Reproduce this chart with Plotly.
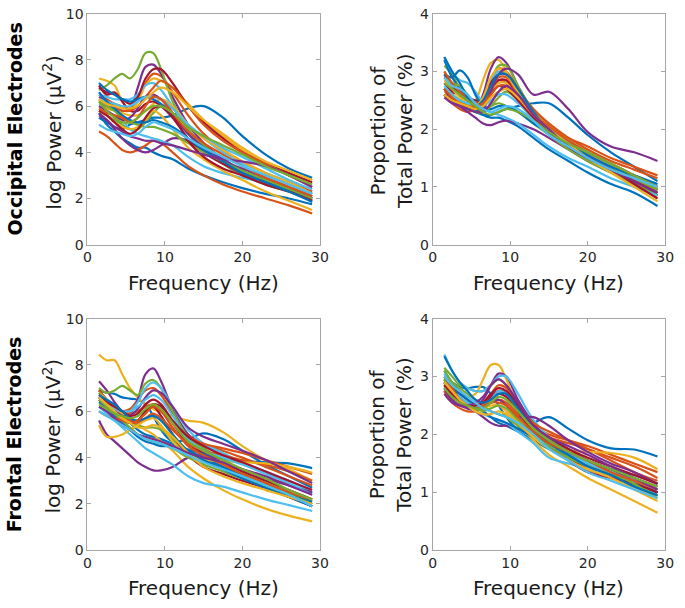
import plotly.graph_objects as go

freq = [1.5, 2.5, 3.5, 4.5, 5.5, 6.5, 7.5, 8.5, 9.5, 11, 13, 15, 17.5, 20, 23, 26, 29]

occ_power = [
    [5.5, 5.3, 5.1, 5.0, 5.2, 5.3, 5.4, 5.5, 5.5, 5.6, 5.9, 6.0, 5.5, 4.7, 3.9, 3.3, 2.9],
    [6.5, 6.3, 6.1, 6.0, 5.9, 6.3, 7.0, 7.4, 7.3, 6.6, 5.6, 4.8, 4.1, 3.6, 3.1, 2.7, 2.3],
    [7.2, 7.1, 6.9, 6.2, 5.8, 6.2, 6.9, 7.2, 7.1, 6.8, 6.1, 5.4, 4.7, 4.1, 3.5, 3.1, 2.6],
    [6.4, 6.2, 6.0, 5.8, 5.9, 6.8, 7.7, 7.8, 7.4, 6.4, 5.2, 4.4, 3.7, 3.2, 2.7, 2.3, 1.9],
    [6.7, 6.9, 7.2, 7.4, 7.2, 7.6, 8.3, 8.3, 7.6, 6.2, 5.0, 4.2, 3.5, 3.0, 2.6, 2.3, 2.0],
    [6.5, 6.4, 6.3, 6.3, 6.3, 6.5, 6.9, 7.0, 6.7, 6.0, 5.2, 4.6, 4.0, 3.5, 3.1, 2.7, 2.2],
    [6.8, 6.6, 6.5, 6.3, 6.1, 6.4, 7.2, 7.6, 7.6, 7.0, 6.0, 5.3, 4.6, 4.0, 3.5, 3.1, 2.7],
    [5.7, 5.2, 4.9, 4.6, 4.4, 4.2, 4.2, 4.0, 3.85, 3.7, 3.3, 3.0, 2.7, 2.45, 2.2, 2.0, 1.75],
    [4.9, 4.7, 4.4, 4.1, 4.0, 4.1, 4.3, 4.5, 4.4, 4.0, 3.4, 3.0, 2.6, 2.3, 2.0, 1.7, 1.35],
    [6.0, 5.9, 5.8, 5.7, 5.6, 5.6, 5.8, 6.1, 6.3, 6.0, 5.2, 4.6, 4.1, 3.6, 3.1, 2.7, 2.2],
    [5.7, 5.4, 5.0, 4.6, 4.3, 4.1, 4.0, 4.1, 4.3, 4.6, 4.5, 4.0, 3.6, 3.3, 2.9, 2.5, 2.1],
    [5.8, 5.6, 5.4, 5.2, 5.0, 5.0, 5.3, 5.7, 6.0, 5.9, 5.0, 4.3, 3.7, 3.2, 2.7, 2.3, 1.9],
    [6.1, 6.0, 5.8, 5.4, 5.0, 4.8, 4.7, 4.6, 4.5, 4.3, 3.8, 3.4, 3.1, 2.9, 2.7, 2.5, 2.2],
    [6.9, 6.5, 6.6, 6.2, 5.8, 5.8, 6.1, 6.2, 6.0, 5.5, 4.6, 4.0, 3.5, 3.1, 2.7, 2.4, 2.0],
    [7.0, 6.7, 6.5, 6.3, 6.2, 6.3, 6.4, 6.3, 6.1, 5.6, 4.8, 4.2, 3.7, 3.2, 2.8, 2.4, 2.0],
    [6.2, 6.0, 5.9, 5.8, 5.8, 6.0, 6.4, 6.8, 7.1, 6.8, 6.0, 5.2, 4.5, 4.0, 3.5, 3.0, 2.5],
    [5.8, 5.6, 5.3, 5.1, 5.0, 5.1, 5.4, 5.8, 5.6, 5.0, 4.2, 3.7, 3.2, 2.8, 2.3, 1.9, 1.5],
    [6.0, 5.8, 5.6, 5.4, 5.5, 5.9, 6.4, 6.5, 6.3, 5.7, 4.8, 4.2, 3.7, 3.2, 2.8, 2.4, 2.0],
    [6.3, 6.0, 5.8, 5.5, 5.3, 5.2, 5.1, 5.1, 5.0, 4.8, 4.4, 4.0, 3.6, 3.2, 2.8, 2.4, 2.0],
    [6.3, 6.2, 6.1, 6.0, 6.0, 6.2, 6.4, 6.4, 6.3, 5.9, 5.2, 4.7, 4.2, 3.8, 3.3, 2.8, 2.4],
    [5.8, 5.6, 5.3, 5.0, 4.8, 5.0, 5.5, 5.9, 6.0, 5.6, 4.5, 3.8, 3.3, 3.0, 2.6, 2.3, 1.9],
    [6.6, 6.2, 5.9, 5.6, 5.4, 5.3, 5.3, 5.4, 5.3, 5.1, 4.6, 4.1, 3.6, 3.1, 2.7, 2.3, 1.85],
    [5.9, 5.7, 5.6, 5.5, 5.3, 5.5, 6.0, 6.4, 6.3, 5.7, 4.9, 4.4, 3.9, 3.4, 2.9, 2.5, 2.1],
    [6.3, 6.1, 6.0, 5.9, 5.9, 6.0, 6.3, 6.6, 6.8, 6.6, 6.0, 5.4, 4.8, 4.2, 3.6, 3.2, 2.8],
    [5.6, 5.4, 5.1, 4.9, 4.7, 4.6, 4.5, 4.5, 4.4, 4.3, 4.1, 3.9, 3.7, 3.6, 3.4, 3.0, 2.5],
    [6.2, 5.8, 5.5, 5.3, 5.3, 5.5, 5.8, 6.0, 6.0, 5.7, 5.1, 4.7, 4.3, 3.9, 3.4, 3.0, 2.6],
    [5.2, 5.0, 4.9, 4.8, 4.7, 4.8, 5.1, 5.3, 5.2, 5.0, 4.6, 4.2, 3.8, 3.4, 3.0, 2.6, 2.2],
]

occ_prop = [
    [2.6, 2.5, 2.45, 2.35, 2.3, 2.25, 2.25, 2.3, 2.35, 2.4, 2.45, 2.45, 2.2, 1.9, 1.6, 1.35, 1.1],
    [2.9, 2.75, 2.6, 2.5, 2.45, 2.55, 2.85, 3.05, 3.0, 2.7, 2.35, 2.1, 1.85, 1.65, 1.45, 1.3, 1.15],
    [2.7, 2.6, 2.5, 2.45, 2.5, 2.85, 3.15, 3.2, 3.0, 2.65, 2.3, 2.05, 1.8, 1.55, 1.3, 1.1, 0.9],
    [2.7, 2.55, 2.45, 2.4, 2.35, 2.6, 3.05, 3.25, 3.15, 2.75, 2.3, 1.95, 1.7, 1.5, 1.3, 1.1, 0.85],
    [3.1, 2.95, 2.7, 2.55, 2.35, 2.4, 2.8, 3.1, 3.1, 2.75, 2.3, 2.0, 1.75, 1.55, 1.35, 1.15, 0.95],
    [3.0, 2.8, 2.65, 2.5, 2.4, 2.55, 2.85, 3.0, 2.95, 2.65, 2.25, 1.95, 1.7, 1.5, 1.3, 1.1, 0.9],
    [2.95, 2.75, 2.6, 2.5, 2.4, 2.5, 2.8, 2.95, 2.95, 2.7, 2.3, 2.05, 1.8, 1.6, 1.4, 1.2, 1.0],
    [3.2, 2.9, 2.7, 2.5, 2.35, 2.25, 2.2, 2.2, 2.15, 2.05, 1.85, 1.65, 1.45, 1.25, 1.05, 0.9, 0.67],
    [2.6, 2.45, 2.35, 2.3, 2.35, 2.5, 2.75, 2.85, 2.8, 2.55, 2.25, 2.05, 1.85, 1.7, 1.5, 1.35, 1.2],
    [2.65, 2.55, 2.45, 2.4, 2.35, 2.45, 2.65, 2.8, 2.8, 2.6, 2.25, 2.0, 1.75, 1.55, 1.3, 1.1, 0.8],
    [2.7, 2.5, 2.4, 2.3, 2.2, 2.1, 2.07, 2.12, 2.15, 2.1, 2.0, 1.85, 1.65, 1.45, 1.25, 1.05, 0.85],
    [2.9, 2.8, 2.75, 2.6, 2.4, 2.3, 2.4, 2.45, 2.4, 2.3, 2.1, 1.9, 1.65, 1.45, 1.25, 1.05, 0.85],
    [3.25, 3.0, 2.85, 2.8, 2.65, 2.45, 2.3, 2.25, 2.2, 2.1, 1.9, 1.7, 1.5, 1.35, 1.15, 1.0, 0.85],
    [2.8, 2.65, 2.6, 2.55, 2.5, 2.5, 2.7, 2.85, 2.85, 2.6, 2.3, 2.05, 1.75, 1.5, 1.3, 1.05, 0.8],
    [2.95, 2.9, 3.02, 2.9, 2.6, 2.4, 2.35, 2.4, 2.4, 2.3, 2.1, 1.95, 1.7, 1.5, 1.3, 1.15, 0.95],
    [3.0, 2.8, 2.65, 2.55, 2.45, 2.5, 2.7, 2.9, 2.9, 2.6, 2.2, 1.95, 1.7, 1.5, 1.3, 1.1, 0.95],
    [2.85, 2.7, 2.55, 2.45, 2.4, 2.55, 2.9, 3.05, 2.95, 2.65, 2.3, 2.05, 1.8, 1.6, 1.4, 1.2, 1.0],
    [2.6, 2.5, 2.45, 2.4, 2.3, 2.35, 2.65, 2.95, 3.05, 2.95, 2.6, 2.65, 2.35, 1.95, 1.7, 1.6, 1.45],
    [2.7, 2.6, 2.5, 2.4, 2.3, 2.3, 2.4, 2.55, 2.65, 2.5, 2.15, 1.95, 1.75, 1.55, 1.35, 1.15, 0.95],
    [2.75, 2.6, 2.5, 2.45, 2.4, 2.4, 2.5, 2.6, 2.6, 2.45, 2.2, 2.0, 1.8, 1.6, 1.4, 1.2, 1.05],
    [2.6, 2.5, 2.45, 2.4, 2.35, 2.4, 2.6, 2.75, 2.7, 2.5, 2.2, 1.95, 1.7, 1.5, 1.3, 1.1, 0.9],
    [3.25, 3.0, 2.8, 2.55, 2.4, 2.5, 2.75, 2.95, 2.95, 2.7, 2.3, 2.0, 1.75, 1.55, 1.35, 1.2, 1.05],
    [2.7, 2.55, 2.45, 2.4, 2.4, 2.45, 2.6, 2.75, 2.75, 2.55, 2.25, 2.05, 1.8, 1.6, 1.4, 1.2, 1.0],
    [2.6, 2.5, 2.45, 2.4, 2.35, 2.4, 2.55, 2.65, 2.7, 2.55, 2.25, 2.0, 1.75, 1.5, 1.25, 1.0, 0.75],
    [2.55, 2.45, 2.4, 2.35, 2.3, 2.3, 2.45, 2.65, 2.75, 2.6, 2.25, 2.0, 1.7, 1.5, 1.3, 1.1, 0.9],
    [2.8, 2.7, 2.6, 2.5, 2.4, 2.3, 2.25, 2.3, 2.35, 2.3, 2.15, 1.95, 1.75, 1.6, 1.4, 1.2, 1.0],
    [2.9, 2.75, 2.7, 2.6, 2.45, 2.35, 2.3, 2.35, 2.4, 2.35, 2.15, 1.9, 1.7, 1.5, 1.3, 1.15, 1.0],
]

fro_power = [
    [6.9, 6.8, 6.75, 6.6, 6.55, 6.5, 6.3, 5.8, 5.2, 4.7, 4.8, 5.05, 4.8, 4.3, 3.7, 3.2, 2.7],
    [6.6, 6.3, 6.1, 6.0, 6.1, 6.5, 6.9, 7.0, 6.7, 5.9, 5.0, 4.6, 4.3, 4.0, 3.6, 3.2, 2.8],
    [8.45, 8.2, 8.2, 7.6, 7.0, 6.6, 6.3, 6.1, 5.95, 5.8, 5.6, 5.5, 5.1, 4.5, 3.9, 3.5, 3.0],
    [7.3, 6.9, 6.4, 6.0, 5.9, 6.5, 7.6, 7.85, 7.3, 6.1, 5.0, 4.4, 3.9, 3.4, 2.9, 2.4, 1.9],
    [7.0, 6.8, 6.9, 7.1, 6.9, 6.7, 7.2, 7.35, 7.0, 6.0, 4.9, 4.4, 3.9, 3.4, 2.9, 2.5, 2.0],
    [6.8, 6.5, 6.2, 6.0, 6.0, 6.4, 7.0, 7.25, 7.0, 6.2, 5.2, 4.6, 4.2, 3.8, 3.4, 3.0, 2.5],
    [6.9, 6.5, 6.2, 5.9, 5.6, 5.6, 6.0, 6.3, 6.2, 5.5, 4.6, 4.2, 3.8, 3.4, 3.0, 2.6, 2.2],
    [6.6, 6.3, 6.0, 5.8, 5.5, 5.2, 5.0, 4.9, 4.8, 4.6, 4.35, 4.15, 3.95, 3.85, 3.8, 3.75, 3.55],
    [6.9, 6.5, 6.2, 6.0, 5.9, 6.0, 6.2, 6.3, 6.1, 5.5, 4.9, 4.6, 4.4, 4.2, 3.9, 3.6, 3.3],
    [6.8, 6.5, 6.2, 5.9, 5.6, 5.4, 5.2, 5.0, 4.7, 4.3, 3.6, 3.1, 2.6, 2.2, 1.8, 1.5, 1.25],
    [5.6, 5.0, 4.7, 4.4, 4.1, 3.8, 3.6, 3.45, 3.45, 3.6, 4.0, 4.1, 3.8, 3.5, 3.1, 2.8, 2.5],
    [6.8, 6.3, 5.8, 5.6, 5.5, 5.4, 5.3, 5.3, 5.2, 4.8, 4.2, 3.9, 3.6, 3.3, 2.9, 2.5, 2.1],
    [6.2, 5.9, 5.6, 5.3, 5.0, 4.7, 4.4, 4.2, 4.0, 3.7, 3.2, 2.9, 2.75, 2.5, 2.2, 1.95, 1.7],
    [6.6, 6.3, 6.0, 5.7, 5.5, 5.6, 6.0, 6.2, 5.8, 5.0, 4.1, 3.6, 3.3, 3.0, 2.7, 2.3, 1.9],
    [6.4, 6.1, 5.8, 5.5, 5.2, 4.9, 4.7, 4.6, 4.5, 4.5, 4.3, 4.0, 3.6, 3.2, 2.8, 2.4, 2.1],
    [6.5, 6.2, 6.0, 5.8, 5.6, 5.5, 5.7, 5.9, 5.7, 5.2, 4.6, 4.3, 4.1, 3.9, 3.7, 3.4, 3.0],
    [5.4, 4.9, 4.9, 5.0, 5.2, 5.4, 5.6, 5.7, 5.4, 4.7, 4.1, 3.9, 3.85, 3.8, 3.75, 3.6, 3.35],
    [6.5, 6.2, 6.0, 5.8, 5.8, 6.1, 6.6, 6.9, 6.8, 6.2, 5.3, 4.9, 4.6, 4.3, 3.9, 3.4, 2.9],
    [6.5, 6.2, 5.9, 5.6, 5.3, 5.0, 4.8, 4.7, 4.6, 4.4, 4.0, 3.7, 3.4, 3.1, 2.8, 2.4, 2.0],
    [6.6, 6.3, 6.1, 6.0, 6.0, 6.2, 6.5, 6.7, 6.5, 5.8, 4.8, 4.3, 4.0, 3.7, 3.3, 2.9, 2.4],
    [6.7, 6.4, 6.2, 6.0, 5.8, 5.9, 6.3, 6.5, 6.3, 5.6, 4.9, 4.5, 4.1, 3.8, 3.4, 3.0, 2.6],
    [6.7, 6.5, 6.3, 6.0, 5.7, 5.6, 5.7, 5.8, 5.6, 5.0, 4.3, 3.9, 3.5, 3.1, 2.7, 2.3, 1.9],
    [6.0, 5.8, 5.7, 5.6, 5.5, 5.6, 5.9, 6.2, 6.0, 5.3, 4.5, 4.1, 3.7, 3.3, 2.9, 2.5, 2.2],
    [6.6, 6.3, 6.0, 5.7, 5.5, 5.3, 5.3, 5.4, 5.3, 4.9, 4.2, 3.6, 3.2, 2.9, 2.6, 2.3, 2.0],
    [6.2, 6.0, 5.7, 5.4, 5.2, 5.0, 4.9, 4.8, 4.7, 4.5, 4.2, 4.0, 3.8, 3.5, 3.2, 2.8, 2.4],
    [6.3, 6.1, 5.9, 5.8, 5.7, 5.8, 6.1, 6.3, 6.1, 5.5, 4.7, 4.3, 3.9, 3.5, 3.1, 2.6, 2.2],
    [6.0, 5.8, 5.6, 5.4, 5.2, 5.0, 4.8, 4.7, 4.6, 4.4, 4.1, 3.8, 3.5, 3.2, 2.8, 2.4, 1.9],
]

fro_prop = [
    [3.0, 2.9, 2.82, 2.8, 2.82, 2.82, 2.7, 2.5, 2.3, 2.1, 2.2, 2.3, 2.1, 1.9, 1.76, 1.74, 1.62],
    [2.9, 2.7, 2.55, 2.45, 2.45, 2.5, 2.65, 2.75, 2.7, 2.45, 2.15, 2.0, 1.9, 1.8, 1.65, 1.5, 1.35],
    [2.85, 2.8, 2.75, 2.65, 2.7, 2.95, 3.2, 3.2, 2.95, 2.5, 2.1, 1.85, 1.65, 1.5, 1.3, 1.1, 0.9],
    [2.75, 2.6, 2.6, 2.55, 2.5, 2.6, 2.85, 3.05, 3.0, 2.6, 2.2, 1.95, 1.75, 1.55, 1.4, 1.25, 1.1],
    [3.15, 3.0, 2.85, 2.8, 2.75, 2.75, 2.85, 2.95, 2.85, 2.5, 2.1, 1.85, 1.65, 1.5, 1.35, 1.2, 1.0],
    [3.38, 3.1, 2.9, 2.8, 2.75, 2.75, 2.85, 3.0, 3.0, 2.7, 2.25, 1.95, 1.7, 1.55, 1.35, 1.2, 1.05],
    [2.9, 2.75, 2.6, 2.5, 2.45, 2.5, 2.65, 2.75, 2.7, 2.4, 2.0, 1.8, 1.6, 1.4, 1.25, 1.1, 0.95],
    [3.1, 2.9, 2.75, 2.6, 2.5, 2.4, 2.3, 2.2, 2.15, 2.05, 1.9, 1.75, 1.6, 1.45, 1.3, 1.15, 1.0],
    [2.75, 2.55, 2.45, 2.4, 2.4, 2.45, 2.55, 2.6, 2.55, 2.35, 2.1, 1.95, 1.85, 1.75, 1.6, 1.45, 1.25],
    [3.0, 2.85, 2.7, 2.6, 2.5, 2.45, 2.4, 2.35, 2.3, 2.15, 1.9, 1.65, 1.45, 1.25, 1.05, 0.85, 0.65],
    [2.8, 2.6, 2.5, 2.45, 2.4, 2.3, 2.2, 2.15, 2.15, 2.1, 2.05, 1.9, 1.7, 1.55, 1.4, 1.2, 1.0],
    [3.1, 2.9, 2.8, 2.7, 2.6, 2.5, 2.4, 2.35, 2.3, 2.15, 1.95, 1.75, 1.6, 1.45, 1.3, 1.15, 0.95],
    [3.05, 2.8, 2.65, 2.5, 2.4, 2.35, 2.3, 2.25, 2.2, 2.05, 1.85, 1.6, 1.5, 1.4, 1.25, 1.1, 0.95],
    [2.95, 2.8, 2.7, 2.6, 2.5, 2.5, 2.6, 2.7, 2.65, 2.4, 2.05, 1.8, 1.55, 1.35, 1.25, 1.15, 1.0],
    [2.95, 2.8, 2.7, 2.6, 2.5, 2.4, 2.3, 2.25, 2.2, 2.1, 1.95, 1.8, 1.65, 1.5, 1.4, 1.3, 1.15],
    [2.85, 2.65, 2.55, 2.5, 2.5, 2.55, 2.7, 2.85, 2.8, 2.5, 2.2, 2.05, 1.9, 1.75, 1.55, 1.35, 1.2],
    [2.85, 2.75, 2.6, 2.5, 2.45, 2.45, 2.5, 2.5, 2.4, 2.2, 1.95, 1.8, 1.72, 1.7, 1.68, 1.6, 1.4],
    [2.9, 2.7, 2.55, 2.5, 2.5, 2.5, 2.55, 2.6, 2.5, 2.3, 2.3, 2.15, 1.9, 1.7, 1.5, 1.35, 1.15],
    [2.95, 2.75, 2.6, 2.5, 2.45, 2.4, 2.45, 2.5, 2.45, 2.25, 2.0, 1.8, 1.6, 1.5, 1.35, 1.15, 0.9],
    [2.9, 2.75, 2.65, 2.55, 2.5, 2.5, 2.6, 2.75, 2.7, 2.45, 2.1, 1.85, 1.65, 1.5, 1.35, 1.2, 1.05],
    [2.85, 2.7, 2.6, 2.5, 2.5, 2.55, 2.7, 2.8, 2.75, 2.5, 2.15, 1.95, 1.75, 1.6, 1.45, 1.3, 1.15],
    [3.35, 3.1, 2.9, 2.75, 2.6, 2.55, 2.6, 2.7, 2.7, 2.45, 2.1, 1.85, 1.65, 1.45, 1.3, 1.1, 0.95],
    [3.0, 2.8, 2.6, 2.5, 2.45, 2.5, 2.55, 2.55, 2.5, 2.3, 2.05, 1.85, 1.7, 1.55, 1.35, 1.2, 1.05],
    [2.9, 2.75, 2.6, 2.5, 2.4, 2.35, 2.35, 2.4, 2.35, 2.2, 1.95, 1.75, 1.55, 1.4, 1.25, 1.05, 0.85],
    [2.7, 2.55, 2.5, 2.5, 2.55, 2.65, 2.85, 2.95, 2.85, 2.55, 2.15, 1.95, 1.8, 1.65, 1.45, 1.25, 1.05],
    [2.8, 2.65, 2.55, 2.5, 2.45, 2.45, 2.55, 2.65, 2.6, 2.4, 2.1, 1.9, 1.7, 1.55, 1.4, 1.25, 1.1],
    [3.0, 2.85, 2.75, 2.65, 2.55, 2.45, 2.4, 2.35, 2.3, 2.2, 2.0, 1.75, 1.55, 1.35, 1.2, 1.05, 0.9],
]

palette = ["#0072BD", "#D95319", "#EDB120", "#7E2F8E", "#77AC30", "#4DBEEE", "#A2142F"]

W, H = 685, 608
FONT = "DejaVu Sans"
TICK_C = "#262626"
LINE_C = "#a6a6a6"
TITLE_C = "#1a1a1a"

# panel boxes in pixels: (left, right, top, bottom)
boxes = {
    1: (85, 322, 6, 243),
    2: (437, 674, 6, 243),
    3: (85, 322, 319, 557),
    4: (437, 674, 319, 557),
}

panels = [(1, occ_power, 10, 2), (2, occ_prop, 4, 1), (3, fro_power, 10, 2), (4, fro_prop, 4, 1)]

fig = go.Figure()
for idx, data, ymax, dy in panels:
    sfx = "" if idx == 1 else str(idx)
    for i, row in enumerate(data):
        fig.add_trace(go.Scatter(
            x=freq, y=row, mode="lines",
            line=dict(color=palette[i % 7], width=2.2, shape="spline", smoothing=1.0),
            xaxis="x" + sfx, yaxis="y" + sfx, showlegend=False, hoverinfo="skip"))
    l, r, t, b = boxes[idx]
    common = dict(showline=True, linecolor=LINE_C, linewidth=1, mirror="ticks",
                  ticks="inside", ticklen=4, tickcolor=LINE_C, showgrid=False,
                  zeroline=False, tickfont=dict(family=FONT, size=14, color=TICK_C))
    fig.update_layout(**{
        "xaxis" + sfx: dict(domain=[l / W, r / W], range=[0, 30], tickvals=[0, 10, 20, 30],
                            anchor="y" + sfx, **common),
        "yaxis" + sfx: dict(domain=[1 - b / H, 1 - t / H], range=[0, ymax], dtick=dy,
                            anchor="x" + sfx, **common),
    })

ann = []
def add_text(text, xpx, ypx, size=20, angle=0, bold=False, color=TITLE_C):
    ann.append(dict(text=("<b>%s</b>" % text) if bold else text, x=xpx / W, y=1 - ypx / H,
                    xref="paper", yref="paper", showarrow=False, textangle=angle,
                    xanchor="center", yanchor="middle",
                    font=dict(family=FONT, size=size, color=color)))

for idx in (1, 2, 3, 4):
    l, r, t, b = boxes[idx]
    add_text("Frequency (Hz)", (l + r) / 2, b + 39)

add_text("log Power (μV<sup>2</sup>)", 49, 128, angle=-90)
add_text("log Power (μV<sup>2</sup>)", 49, 440, angle=-90)
add_text("Proportion of", 381, 126, angle=-90)
add_text("Total Power (%)", 408, 126, angle=-90)
add_text("Proportion of", 381, 438, angle=-90)
add_text("Total Power (%)", 408, 438, angle=-90)
add_text("Occipital Electrodes", 11, 124, size=19, angle=-90, bold=True, color="#000000")
add_text("Frontal Electrodes", 11, 438, size=19, angle=-90, bold=True, color="#000000")

fig.update_layout(width=W, height=H, margin=dict(l=0, r=0, t=0, b=0),
                  paper_bgcolor="white", plot_bgcolor="white", annotations=ann)

fig.write_html("out.html", config={"displayModeBar": False},
               post_script="document.body.style.margin='0px';document.body.style.padding='0px';")
